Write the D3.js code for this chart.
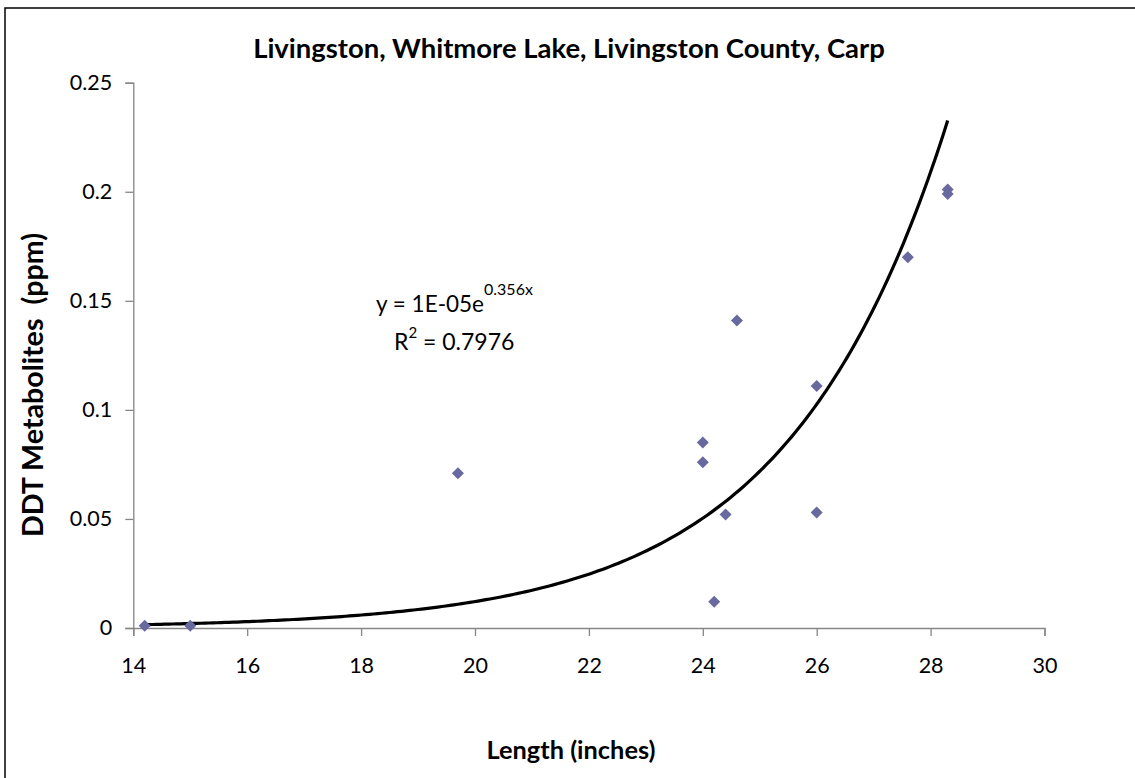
<!DOCTYPE html>
<html><head><meta charset="utf-8">
<script src="https://cdn.jsdelivr.net/npm/d3@7"></script>
<style>body{margin:0;background:#fff}svg{display:block}</style>
</head><body>
<script>
const lengths = [14.2, 15.0, 19.7, 24.0, 24.0, 24.2, 24.4, 24.6, 26.0, 26.0, 27.6, 28.3, 28.3];
const ddt     = [0.001, 0.001, 0.071, 0.085, 0.076, 0.012, 0.052, 0.141, 0.111, 0.053, 0.170, 0.201, 0.199];
const xTicks = [14, 16, 18, 20, 22, 24, 26, 28, 30];
const yTicks = [0, 0.05, 0.1, 0.15, 0.2, 0.25];
const yTickLabels = ["0", "0.05", "0.1", "0.15", "0.2", "0.25"];
const trendA = 0.0000098, trendB = 0.356;
const trendRange = [14.2, 28.3];
const title = "Livingston, Whitmore Lake, Livingston County, Carp";
const xTitle = "Length (inches)";
const yTitle = "DDT Metabolites  (ppm)";

const W = 1135, H = 778;
const font = "Lato, 'Open Sans', sans-serif";
const svg = d3.select("body").append("svg").attr("width", W).attr("height", H);

function fit(sel, target) {
  const fs = +sel.attr("font-size");
  const w = sel.node().getComputedTextLength();
  sel.attr("font-size", (fs * target / w).toFixed(2));
}

svg.append("rect").attr("x", 5).attr("y", 8).attr("width", 1200).attr("height", 1000)
  .attr("fill", "none").attr("stroke", "#000").attr("stroke-width", 1.5);

const x = d3.scaleLinear().domain([14, 30]).range([133.3, 1044.5]);
const y = d3.scaleLinear().domain([0, 0.25]).range([628, 82.7]);

const xAxis = svg.append("g").attr("transform", `translate(0,${y(0)})`)
  .call(d3.axisBottom(x).tickValues(xTicks).tickSize(8).tickPadding(22).tickFormat(d3.format("d")));
const yAxis = svg.append("g").attr("transform", `translate(${x(14)},0)`)
  .call(d3.axisLeft(y).tickValues(yTicks).tickSize(8).tickPadding(13).tickFormat((d, i) => yTickLabels[i]));
[xAxis, yAxis].forEach(g => {
  g.select(".domain").attr("stroke", "#868686").attr("stroke-width", 1.3);
  g.selectAll(".tick line").attr("stroke", "#868686").attr("stroke-width", 1.3);
  g.selectAll("text").attr("font-family", font).attr("font-size", 21.5).attr("fill", "#000");
});

// trendline
const tx = d3.range(0, 201).map(i => trendRange[0] + (trendRange[1] - trendRange[0]) * i / 200);
svg.append("path")
  .attr("d", d3.line().x(d => x(d)).y(d => y(trendA * Math.exp(trendB * d)))(tx))
  .attr("fill", "none").attr("stroke", "#000").attr("stroke-width", 3.2);

// points
svg.append("g").selectAll("path").data(lengths.map((l, i) => [l, ddt[i]])).join("path")
  .attr("transform", d => `translate(${x(d[0])},${y(d[1])})`)
  .attr("d", d3.symbol().type(d3.symbolDiamond2).size(92))
  .attr("fill", "#686A9F");

// equation
const eq = svg.append("text").attr("x", 376).attr("y", 312).attr("font-family", font).attr("font-size", 22.5);
eq.append("tspan").text("y = 1E-05e");
eq.append("tspan").attr("font-size", 16).attr("dy", -17).text("0.356x");
const r2 = svg.append("text").attr("x", 394).attr("y", 350).attr("font-family", font).attr("font-size", 23);
r2.append("tspan").text("R");
r2.append("tspan").attr("font-size", 15).attr("dy", -12).text("2");
r2.append("tspan").attr("dy", 12).text(" = 0.7976");

const t = svg.append("text").attr("x", 569).attr("y", 58).attr("text-anchor", "middle")
  .attr("font-family", font).attr("font-weight", "bold").attr("font-size", 20).text(title);
fit(t, 632);
const xt = svg.append("text").attr("x", 571).attr("y", 759).attr("text-anchor", "middle")
  .attr("font-family", font).attr("font-weight", "bold").attr("font-size", 20).text(xTitle);
fit(xt, 169);
const yt = svg.append("text").attr("transform", "translate(43,385) rotate(-90)").attr("text-anchor", "middle")
  .attr("font-family", font).attr("font-weight", "bold").attr("font-size", 20).attr("xml:space", "preserve")
  .style("white-space", "pre").text(yTitle);
fit(yt, 304);
</script>
</body></html>
